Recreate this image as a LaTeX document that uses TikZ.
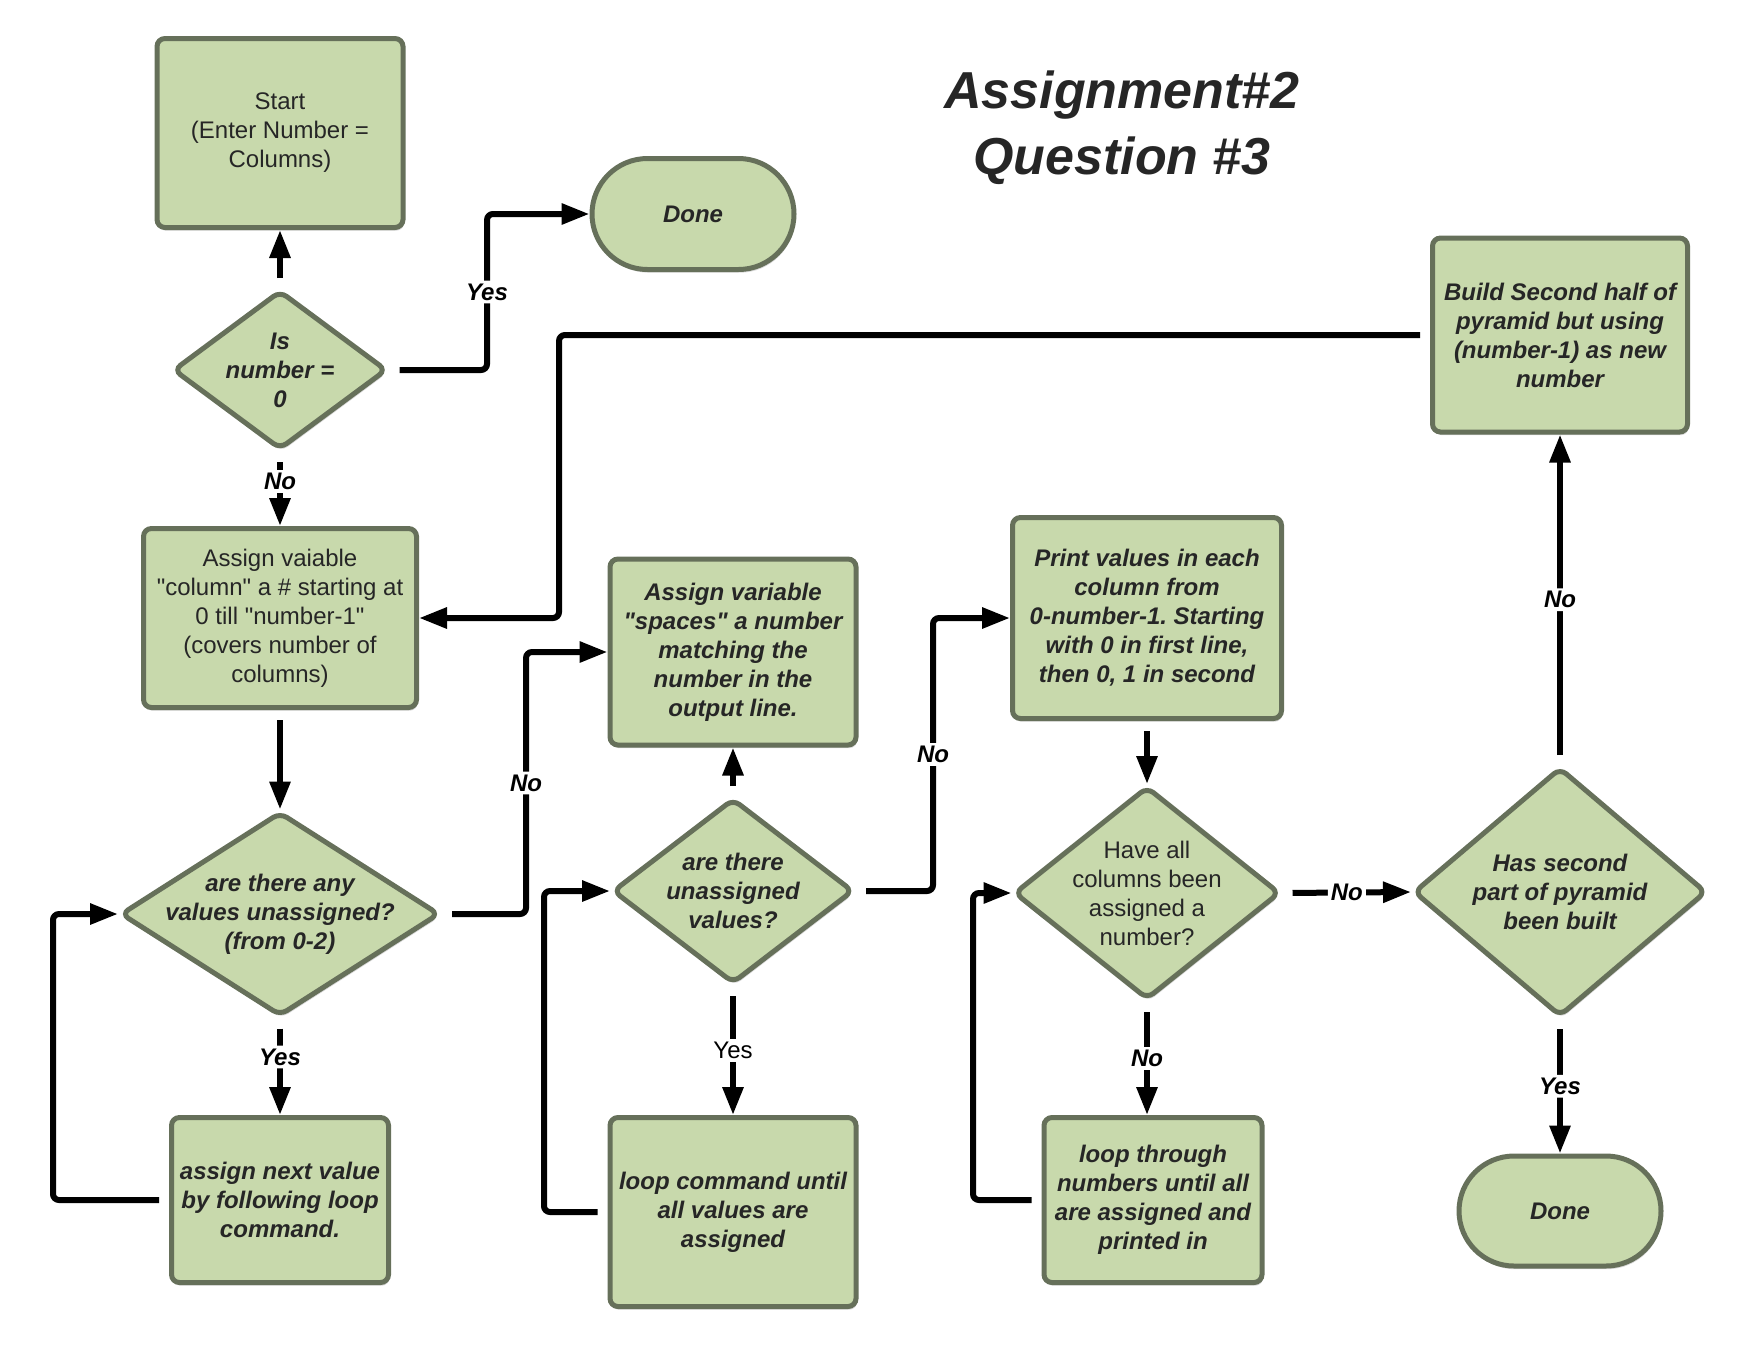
\documentclass[tikz,border=0pt,12pt]{standalone}
\usepackage{fontspec}
\setmainfont{Liberation Sans}
\usetikzlibrary{shapes.geometric,shapes.misc,arrows.meta,shadows}
\frenchspacing

\definecolor{boxfill}{HTML}{C8D9AC}
\definecolor{boxline}{HTML}{66705A}
\definecolor{inktext}{HTML}{262626}
\newcommand{\qq}{\textquotedbl}

\tikzset{
  base/.style={draw=boxline, line width=2.5pt, fill=boxfill, text=inktext,
    align=center, font=\bfseries\itshape,
    drop shadow={shadow xshift=0.6pt, shadow yshift=-1.6pt, opacity=0.3}},
  procbox/.style={base, rectangle, rounded corners=4pt, inner sep=2pt},
  decision/.style={base, diamond, rounded corners=4pt, inner sep=-14pt},
  termbox/.style={base, rounded rectangle},
  plain/.style={font=\normalfont},
  flow/.style={line width=3pt, -{Triangle[length=14pt,width=10pt]},
    rounded corners=3pt, shorten <=5pt},
  lbl/.style={fill=white, inner sep=1.5pt, font=\bfseries\itshape}
}

\begin{document}
\begin{tikzpicture}[x=0.5pt, y=-0.5pt]
\useasboundingbox (0,0) rectangle (1760,1360);

% title
\node[font=\fontsize{26}{33}\selectfont\bfseries\itshape, text=inktext, align=center]
  (title) at (1122,128) {Assignment\#2\\Question \#3};

% first column
\node[procbox, plain, minimum width=123pt, minimum height=94.5pt] (start) at (280,133)
  {Start\\(Enter Number =\\Columns)};
\node[decision, minimum width=107pt, minimum height=79.5pt] (isz) at (280,370)
  {Is\\number =\\0};
\node[termbox, minimum width=109pt, minimum height=55.5pt] (done1) at (693,214) {Done};
\node[procbox, plain, minimum width=136.5pt, minimum height=89.5pt] (assigncol) at (280,618)
  {Assign vaiable\\\qq column\qq{} a \# starting at\\0 till \qq number-1\qq\\(covers number of\\columns)};
\node[decision, minimum width=159.5pt, minimum height=102pt] (anyleft) at (280,914)
  {are there any\\values unassigned?\\(from 0-2)};
\node[procbox, minimum width=108.5pt, minimum height=82.5pt] (nextval) at (280,1200)
  {assign next value\\by following loop\\command.};

% second column
\node[procbox, minimum width=123pt, minimum height=93pt] (spaces) at (733,652)
  {Assign variable\\\qq spaces\qq{} a number\\matching the\\number in the\\output line.};
\node[decision, minimum width=120.5pt, minimum height=92.5pt] (unassigned) at (733,891)
  {are there\\unassigned\\values?};
\node[procbox, minimum width=123pt, minimum height=94.5pt] (loopcmd) at (733,1212)
  {loop command until\\all values are\\assigned};

% third column
\node[procbox, minimum width=134.5pt, minimum height=100.5pt] (print) at (1147,618)
  {Print values in each\\column from\\0-number-1. Starting\\with 0 in first line,\\then 0, 1 in second};
\node[decision, plain, minimum width=133pt, minimum height=106.5pt] (allcols) at (1147,893)
  {Have all\\columns been\\assigned a\\number?};
\node[procbox, minimum width=109pt, minimum height=82.5pt] (loopthru) at (1153,1200)
  {loop through\\numbers until all\\are assigned and\\printed in};

% fourth column
\node[procbox, minimum width=127.5pt, minimum height=97pt] (build) at (1560,335)
  {Build Second half of\\pyramid but using\\(number-1) as new\\number};
\node[decision, minimum width=146.5pt, minimum height=124.5pt] (secondpart) at (1560,892)
  {Has second\\part of pyramid\\been built};
\node[termbox, minimum width=109pt, minimum height=55pt] (done2) at (1560,1211) {Done};

% bend columns
\coordinate (yescol) at (487,0);
\coordinate (backcol) at (559,0);
\coordinate (loopa) at (53,0);
\coordinate (noa) at (526,0);
\coordinate (loopb) at (544,0);
\coordinate (nob) at (933,0);
\coordinate (loopc) at (973,0);

% connectors
\draw[flow] (isz.north) -- (start.south);
\draw[flow] (isz.east) -- (isz.east -| yescol) -- node[lbl]{Yes} (done1.west -| yescol) -- (done1.west);
\draw[flow] (isz.south) -- node[lbl, pos=0.4]{No} (assigncol.north);
\draw[flow] (build.west) -- (build.west -| backcol) -- (assigncol.east -| backcol) -- (assigncol.east);
\draw[flow] (assigncol.south) -- (anyleft.north);
\draw[flow] (anyleft.south) -- node[lbl, pos=0.4]{Yes} (nextval.north);
\draw[flow] (nextval.west) -- (nextval.west -| loopa) -- (anyleft.west -| loopa) -- (anyleft.west);
\draw[flow] (anyleft.east) -- (anyleft.east -| noa) -- node[lbl]{No} (spaces.west -| noa) -- (spaces.west);
\draw[flow] (unassigned.north) -- (spaces.south);
\draw[flow] (unassigned.south) -- node[lbl, plain]{Yes} (loopcmd.north);
\draw[flow] (loopcmd.west) -- (loopcmd.west -| loopb) -- (unassigned.west -| loopb) -- (unassigned.west);
\draw[flow] (unassigned.east) -- (unassigned.east -| nob) -- node[lbl]{No} (print.west -| nob) -- (print.west);
\draw[flow] (print.south) -- (allcols.north);
\draw[flow] (allcols.south) -- node[lbl]{No} (allcols.south |- loopthru.north);
\draw[flow] (loopthru.west) -- (loopthru.west -| loopc) -- (allcols.west -| loopc) -- (allcols.west);
\draw[flow] (allcols.east) -- node[lbl]{No} (secondpart.west);
\draw[flow] (secondpart.north) -- node[lbl]{No} (build.south);
\draw[flow] (secondpart.south) -- node[lbl]{Yes} (done2.north);
\end{tikzpicture}
\end{document}
